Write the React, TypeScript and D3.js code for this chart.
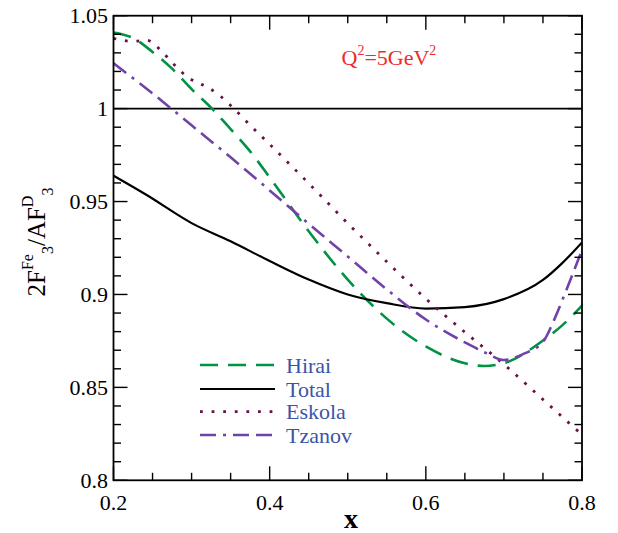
import React from "react";
import * as d3 from "d3";

const hiraiX = [0.2, 0.225, 0.25, 0.275, 0.3, 0.325, 0.35, 0.375, 0.4, 0.45, 0.5, 0.55, 0.6, 0.65, 0.675, 0.7, 0.75, 0.775, 0.8];
const hiraiY = [1.041, 1.038, 1.0305, 1.0215, 1.0105, 1.0005, 0.989, 0.977, 0.963, 0.934, 0.908, 0.887, 0.872, 0.863, 0.8615, 0.863, 0.8752, 0.8835, 0.894];

const totalX = [0.2, 0.2425, 0.3, 0.35, 0.4, 0.45, 0.5, 0.55, 0.6, 0.65, 0.7, 0.75, 0.775, 0.8];
const totalY = [0.9639, 0.9535, 0.9384, 0.9286, 0.918, 0.908, 0.9, 0.8953, 0.8924, 0.8932, 0.8975, 0.9078, 0.917, 0.928];

const eskolaX = [0.2, 0.225, 0.2425, 0.2625, 0.2775, 0.2975, 0.31, 0.3225, 0.3375, 0.35, 0.375, 0.4, 0.45, 0.5, 0.55, 0.6, 0.65, 0.7, 0.75, 0.8];
const eskolaY = [1.0378, 1.0362, 1.0368, 1.0305, 1.0237, 1.0162, 1.0136, 1.011, 1.0065, 1.0017, 0.9911, 0.9808, 0.9598, 0.9383, 0.9176, 0.8977, 0.8797, 0.8624, 0.8435, 0.8245];

const tzanovX = [0.2, 0.25, 0.3, 0.35, 0.4, 0.45, 0.5, 0.55, 0.6, 0.65, 0.678, 0.7, 0.725, 0.75, 0.765, 0.78, 0.8];
const tzanovY = [1.0244, 1.0082, 0.991, 0.9738, 0.956, 0.938, 0.9204, 0.9027, 0.8865, 0.8742, 0.8683, 0.8647, 0.868, 0.8745, 0.887, 0.9024, 0.924];

const xMajor = [0.2, 0.4, 0.6, 0.8];
const xTickLabels = ["0.2", "0.4", "0.6", "0.8"];
const yMajor = [0.8, 0.85, 0.9, 0.95, 1.0, 1.05];
const yTickLabels = ["0.8", "0.85", "0.9", "0.95", "1", "1.05"];

const legendNames = ["Hirai", "Total", "Eskola", "Tzanov"];

const FONT = "'Liberation Serif', 'Times New Roman', serif";

export default function App() {
  const L = 113.5, R = 582, T = 15.7, B = 480.3;
  const x = d3.scaleLinear().domain([0.2, 0.8]).range([L, R]);
  const y = d3.scaleLinear().domain([0.8, 1.05]).range([B, T]);

  const line = d3
    .line<[number, number]>()
    .x((d) => x(d[0]))
    .y((d) => y(d[1]))
    .curve(d3.curveMonotoneX);

  const zip = (xs: number[], ys: number[]) => xs.map((v, i) => [v, ys[i]] as [number, number]);

  const series = [
    { name: "Hirai", d: zip(hiraiX, hiraiY), color: "#009245", dash: "18,10", w: 2.6 },
    { name: "Total", d: zip(totalX, totalY), color: "#000000", dash: "", w: 2.2 },
    { name: "Eskola", d: zip(eskolaX, eskolaY), color: "#6a1048", dash: "2.8,8.8", w: 2.8 },
    { name: "Tzanov", d: zip(tzanovX, tzanovY), color: "#7043a8", dash: "16,7,3,7,16,7", w: 2.6 },
  ];

  const xMinor = d3.range(0.2, 0.8001, 0.05).filter((v) => !xMajor.some((m) => Math.abs(m - v) < 1e-6));
  const yMinor = d3.range(0.8, 1.0501, 0.01).filter((v) => !yMajor.some((m) => Math.abs(m - v) < 1e-6));

  const majorLen = 14, minorLen = 7.5;
  const legendRows = [365, 389, 411.7, 435];

  return (
    <svg width={618} height={533} style={{ position: "absolute", left: 0, top: 0, display: "block", background: "#fff" }}>
      <defs>
        <clipPath id="plotclip">
          <rect x={L} y={T} width={R - L} height={B - T} />
        </clipPath>
      </defs>
      <line x1={L} x2={R} y1={y(1)} y2={y(1)} stroke="#000" strokeWidth={1.6} />
      <g clipPath="url(#plotclip)">
        {series.map((s) => (
          <path key={s.name} d={line(s.d) || ""} fill="none" stroke={s.color} strokeWidth={s.w} strokeDasharray={s.dash || undefined} />
        ))}
      </g>
      <g stroke="#000" strokeWidth={1.4}>
        {xMajor.map((v) => (
          <g key={"xM" + v}>
            <line x1={x(v)} x2={x(v)} y1={B} y2={B - majorLen} />
            <line x1={x(v)} x2={x(v)} y1={T} y2={T + majorLen} />
          </g>
        ))}
        {xMinor.map((v) => (
          <g key={"xm" + v}>
            <line x1={x(v)} x2={x(v)} y1={B} y2={B - minorLen} />
            <line x1={x(v)} x2={x(v)} y1={T} y2={T + minorLen} />
          </g>
        ))}
        {yMajor.map((v) => (
          <g key={"yM" + v}>
            <line x1={L} x2={L + majorLen} y1={y(v)} y2={y(v)} />
            <line x1={R} x2={R - majorLen} y1={y(v)} y2={y(v)} />
          </g>
        ))}
        {yMinor.map((v) => (
          <g key={"ym" + v}>
            <line x1={L} x2={L + minorLen} y1={y(v)} y2={y(v)} />
            <line x1={R} x2={R - minorLen} y1={y(v)} y2={y(v)} />
          </g>
        ))}
      </g>
      <rect x={L} y={T} width={R - L} height={B - T} fill="none" stroke="#000" strokeWidth={1.8} />
      <g fontFamily={FONT} fontSize={22} fill="#000">
        {xMajor.map((v, i) => (
          <text key={"xl" + v} x={x(v)} y={510} textAnchor="middle">
            {xTickLabels[i]}
          </text>
        ))}
        {yMajor.map((v, i) => (
          <text key={"yl" + v} x={108} y={y(v) + 7.5} textAnchor="end">
            {yTickLabels[i]}
          </text>
        ))}
      </g>
      <text x={351} y={528} textAnchor="middle" fontFamily={FONT} fontSize={28} fontWeight="bold">
        x
      </text>
      <g transform="translate(45,242) rotate(-90)">
        <text x={0} y={0} textAnchor="middle" fontFamily={FONT} fontSize={25}>
          <tspan>2F</tspan>
          <tspan fontSize={16} dy={-12}>Fe</tspan>
          <tspan fontSize={16} dy={20}>3</tspan>
          <tspan dy={-8}>/AF</tspan>
          <tspan fontSize={16} dy={-12}>D</tspan>
          <tspan fontSize={16} dy={20}>3</tspan>
        </text>
      </g>
      <text x={341.5} y={65} fontFamily={FONT} fontSize={22} fill="#ee2a2a">
        <tspan>Q</tspan>
        <tspan fontSize={14} dy={-10}>2</tspan>
        <tspan dy={10}>=5GeV</tspan>
        <tspan fontSize={14} dy={-10}>2</tspan>
      </text>
      {series.map((s, i) => (
        <g key={"lg" + s.name}>
          <line x1={200} x2={275} y1={legendRows[i]} y2={legendRows[i]} stroke={s.color} strokeWidth={s.w} strokeDasharray={s.dash || undefined} />
          <text x={286} y={legendRows[i] + 7.5} fontFamily={FONT} fontSize={22} fill="#3b55a6">
            {legendNames[i]}
          </text>
        </g>
      ))}
    </svg>
  );
}
